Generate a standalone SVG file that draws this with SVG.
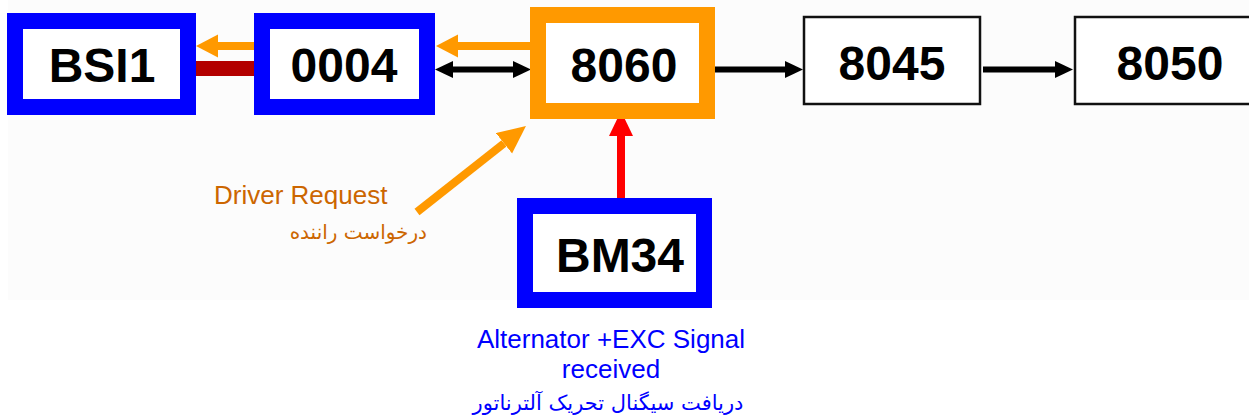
<svg xmlns="http://www.w3.org/2000/svg" width="1249" height="419" viewBox="0 0 1249 419">
  <style>
    .blue { fill: #ffffff; stroke: #0000ff; stroke-width: 16; }
    .orange { fill: #ffffff; stroke: #ff9900; stroke-width: 16; }
    .thin { fill: #ffffff; stroke: #111111; stroke-width: 2.5; }
    .code { font-family: "Liberation Sans", Arial, sans-serif; font-weight: bold; font-size: 48px; fill: #000000; text-anchor: middle; }
    .lbl { font-family: "Liberation Sans", Arial, sans-serif; font-size: 26px; }
    .fa { font-family: "DejaVu Sans", "Noto Sans", sans-serif; }
  </style>
  <defs>
    <marker id="hOrange" markerUnits="userSpaceOnUse" markerWidth="24" markerHeight="25" refX="0" refY="11.5" orient="auto">
      <path d="M0,0 L22,11.5 L0,23 Z" fill="#ff9900"/>
    </marker>
    <marker id="hOrangeBig" markerUnits="userSpaceOnUse" markerWidth="30" markerHeight="28" refX="0" refY="13" orient="auto">
      <path d="M0,0 L28,13 L0,26 Z" fill="#ff9900"/>
    </marker>
    <marker id="hBlack" markerUnits="userSpaceOnUse" markerWidth="20" markerHeight="20" refX="0" refY="8.5" orient="auto-start-reverse">
      <path d="M0,0 L18,8.5 L0,17 Z" fill="#000000"/>
    </marker>
    <marker id="hRed" markerUnits="userSpaceOnUse" markerWidth="26" markerHeight="26" refX="0" refY="12" orient="auto">
      <path d="M0,0 L25,12 L0,24 Z" fill="#ff0000"/>
    </marker>
  </defs>

  <rect x="8" y="0" width="1241" height="300" fill="#fcfcfc"/>

  <g id="connectors">
    <rect x="196" y="61" width="58" height="15" fill="#b30000"/>
    <line x1="254" y1="46" x2="218" y2="46" stroke="#ff9900" stroke-width="8" marker-end="url(#hOrange)"/>
    <line x1="530" y1="46" x2="458" y2="46" stroke="#ff9900" stroke-width="8" marker-end="url(#hOrange)"/>
    <line x1="453" y1="69.5" x2="513" y2="69.5" stroke="#000000" stroke-width="6" marker-start="url(#hBlack)" marker-end="url(#hBlack)"/>
    <line x1="715" y1="69.5" x2="785" y2="69.5" stroke="#000000" stroke-width="6" marker-end="url(#hBlack)"/>
    <line x1="983" y1="69.5" x2="1055" y2="69.5" stroke="#000000" stroke-width="6" marker-end="url(#hBlack)"/>
    <line x1="621" y1="198" x2="621" y2="136" stroke="#ff0000" stroke-width="8" marker-end="url(#hRed)"/>
    <line x1="417" y1="212" x2="504" y2="143.3" stroke="#ff9900" stroke-width="8" marker-end="url(#hOrangeBig)"/>
  </g>

  <g id="node-bsi1">
    <rect class="blue" x="15" y="21" width="173" height="86"/>
    <text class="code" x="102" y="82">BSI1</text>
  </g>
  <g id="node-0004">
    <rect class="blue" x="262" y="21" width="165" height="86"/>
    <text class="code" x="344" y="82">0004</text>
  </g>
  <g id="node-8060">
    <rect class="orange" x="538" y="15" width="169" height="96"/>
    <text class="code" x="624" y="82">8060</text>
  </g>
  <g id="node-8045">
    <rect class="thin" x="804" y="17" width="176" height="87"/>
    <text class="code" x="892" y="80">8045</text>
  </g>
  <g id="node-8050">
    <rect class="thin" x="1075" y="17" width="190" height="87"/>
    <text class="code" x="1170" y="80">8050</text>
  </g>
  <g id="node-bm34">
    <rect class="blue" x="525" y="206" width="179" height="94"/>
    <text class="code" x="620" y="272">BM34</text>
  </g>

  <g id="label-driver">
    <text class="lbl" x="214" y="204" fill="#cc6600">Driver Request</text>
    <text class="fa" x="427" y="239" font-size="20" fill="#cc6600" text-anchor="end">درخواست راننده</text>
  </g>
  <g id="label-alt">
    <text class="lbl" x="611" y="348" fill="#0000ff" text-anchor="middle">Alternator +EXC Signal</text>
    <text class="lbl" x="611" y="378" fill="#0000ff" text-anchor="middle">received</text>
    <text class="fa" x="608" y="410" font-size="21" fill="#0000ff" text-anchor="middle">دریافت سیگنال تحریک آلترناتور</text>
  </g>
</svg>
